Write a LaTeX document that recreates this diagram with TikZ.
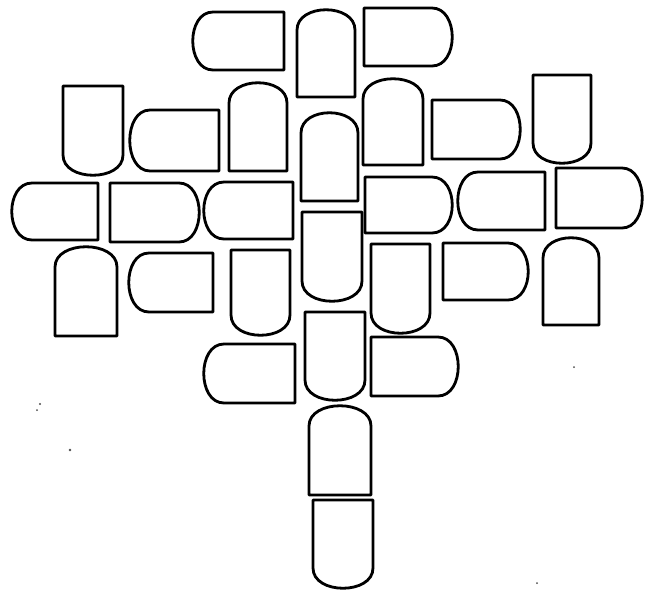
\documentclass[tikz,border=0pt]{standalone}
\tikzset{
    stone/.style={line width=2pt, line join=round, line cap=round},
    speck/.style={fill=black!70}
}
% one slab: corners x1 y1 x2 y2 (in pixels), side that is curved (t, b, l, r)
\newcommand{\stone}[5]{%
  \if t#5\draw[stone] (#1,{#2+20}) .. controls (#1,{#2-7}) and (#3,{#2-7}) .. (#3,{#2+20}) -- (#3,#4) -- (#1,#4) -- cycle;\fi
  \if b#5\draw[stone] (#1,#2) -- (#3,#2) -- (#3,{#4-20}) .. controls (#3,{#4+7}) and (#1,{#4+7}) .. (#1,{#4-20}) -- cycle;\fi
  \if l#5\draw[stone] ({#1+20},#4) .. controls ({#1-7},#4) and ({#1-7},#2) .. ({#1+20},#2) -- (#3,#2) -- (#3,#4) -- cycle;\fi
  \if r#5\draw[stone] (#1,#2) -- ({#3-20},#2) .. controls ({#3+7},#2) and ({#3+7},#4) .. ({#3-20},#4) -- (#1,#4) -- cycle;\fi}
\begin{document}
\begin{tikzpicture}[x=0.025cm, y=-0.025cm]
    \useasboundingbox (0,0) rectangle (645,594);

    % Top row
    \stone{193}{12}{284}{70}{l}
    \stone{297}{10}{355}{97}{t}
    \stone{364}{8}{452}{66}{r}

    % Second row
    \stone{63}{86}{123}{175}{b}
    \stone{130}{110}{219}{171}{l}
    \stone{229}{83}{287}{171}{t}
    \stone{301}{113}{358}{201}{t}
    \stone{363}{79}{423}{165}{t}
    \stone{432}{100}{520}{159}{r}
    \stone{533}{75}{591}{163}{b}

    % Third row
    \stone{12}{183}{98}{240}{l}
    \stone{110}{183}{199}{242}{r}
    \stone{204}{182}{293}{239}{l}
    \stone{302}{212}{362}{301}{b}
    \stone{365}{177}{452}{233}{r}
    \stone{458}{172}{545}{230}{l}
    \stone{556}{168}{642}{228}{r}

    % Fourth row
    \stone{55}{247}{117}{336}{t}
    \stone{129}{253}{213}{312}{l}
    \stone{231}{250}{290}{335}{b}
    \stone{371}{244}{430}{333}{b}
    \stone{443}{243}{528}{300}{r}
    \stone{543}{238}{599}{325}{t}

    % Fifth row
    \stone{204}{344}{295}{403}{l}
    \stone{305}{312}{365}{400}{b}
    \stone{371}{337}{458}{396}{r}

    % Stem
    \stone{309}{406}{371}{495}{t}
    \stone{313}{500}{373}{588}{b}

    % specks of the scan
    \fill[speck] (40,404) circle (1.2);
    \fill[speck] (37,410) circle (1);
    \fill[speck] (70,450) circle (1.3);
    \fill[speck] (574,367) circle (1);
    \fill[speck] (537,583) circle (1);
\end{tikzpicture}
\end{document}
